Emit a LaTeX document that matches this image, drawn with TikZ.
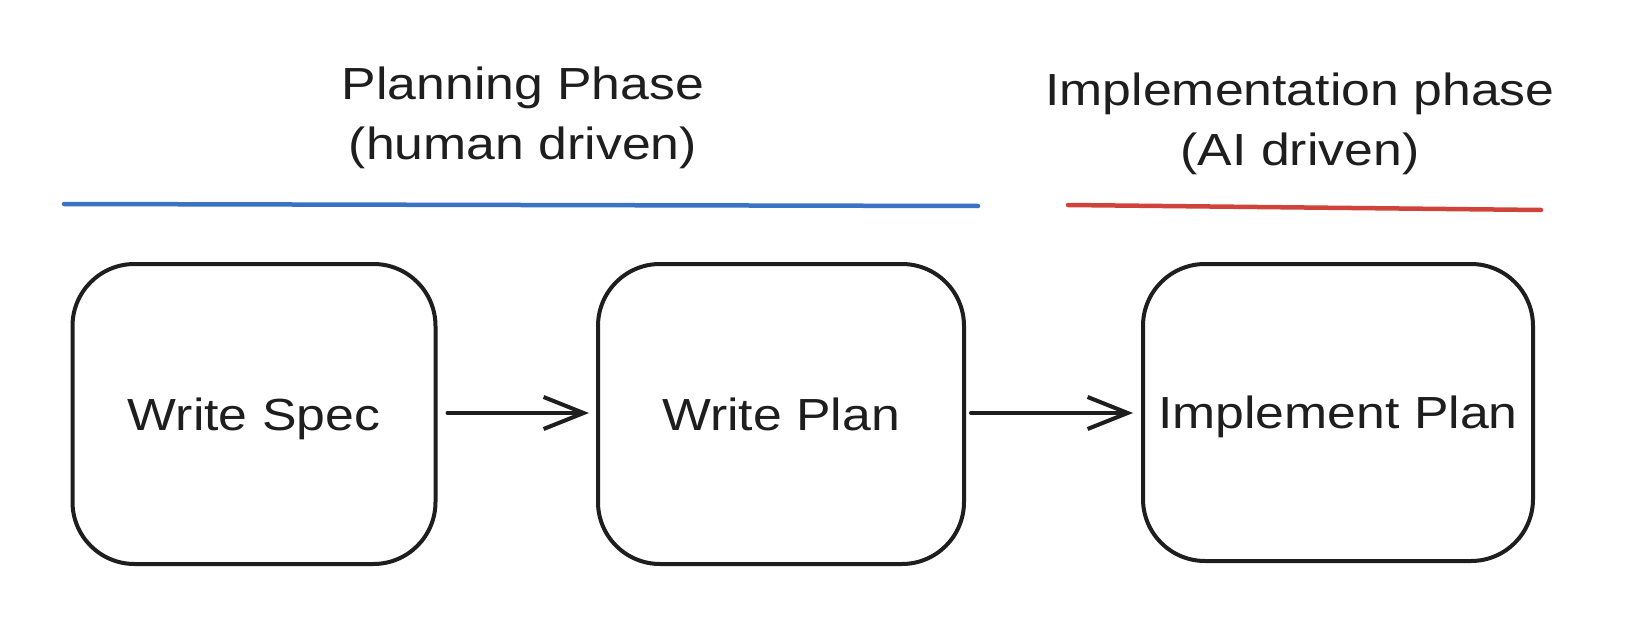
\documentclass[tikz,border=0pt]{standalone}
\usepackage{fontspec}
\setmainfont{Liberation Sans}
\newfontfamily\handfont[FakeStretch=1.15]{Liberation Sans}
\usetikzlibrary{arrows.meta}
\definecolor{ink}{HTML}{1E1E1E}
\definecolor{bluebar}{HTML}{3A72C4}
\definecolor{redbar}{HTML}{D0433A}
\tikzset{
  stepbox/.style={draw=ink, line width=4pt, rounded corners=62pt, rectangle,
    inner sep=0pt, text=ink, font=\handfont\fontsize{45}{56}\selectfont,
    text height=32pt, text depth=0pt},
  title/.style={text=ink, align=center, inner sep=0pt, anchor=north,
    font=\handfont\fontsize{45}{60}\selectfont},
  conn/.style={draw=ink, line width=4pt, line cap=round,
    -{Straight Barb[length=40pt,width=32pt,line width=4pt]}},
  bar/.style={line width=4.5pt, line cap=round}
}
\begin{document}
\begin{tikzpicture}[x=1pt,y=-1pt]
\useasboundingbox[fill=white] (0,0) rectangle (1626,642);

\node[title] (t1) at (523,67) {Planning Phase\\(human driven)};
\node[title] (t2) at (1300,73) {Implementation phase\\(AI driven)};

\coordinate (bl) at (64,204);
\coordinate (br) at (978,206);
\draw[bar, bluebar] (bl) -- (br);
\coordinate (rl) at (1068,205);
\coordinate (rr) at (1541,210);
\draw[bar, redbar] (rl) -- (rr);

\node[stepbox, minimum width=363pt, minimum height=300pt] (b1) at (254,414) {Write Spec};
\node[stepbox, minimum width=366pt, minimum height=300pt] (b2) at (781,414) {Write Plan};
\node[stepbox, minimum width=390pt, minimum height=297pt] (b3) at (1338,412.5) {Implement Plan};

\draw[conn, shorten <=10pt, shorten >=7pt] (b1.east |- 0,413) -- (b2.west |- 0,413);
\draw[conn, shorten <=5pt, shorten >=8pt] (b2.east |- 0,413) -- (b3.west |- 0,413);
\end{tikzpicture}
\end{document}
